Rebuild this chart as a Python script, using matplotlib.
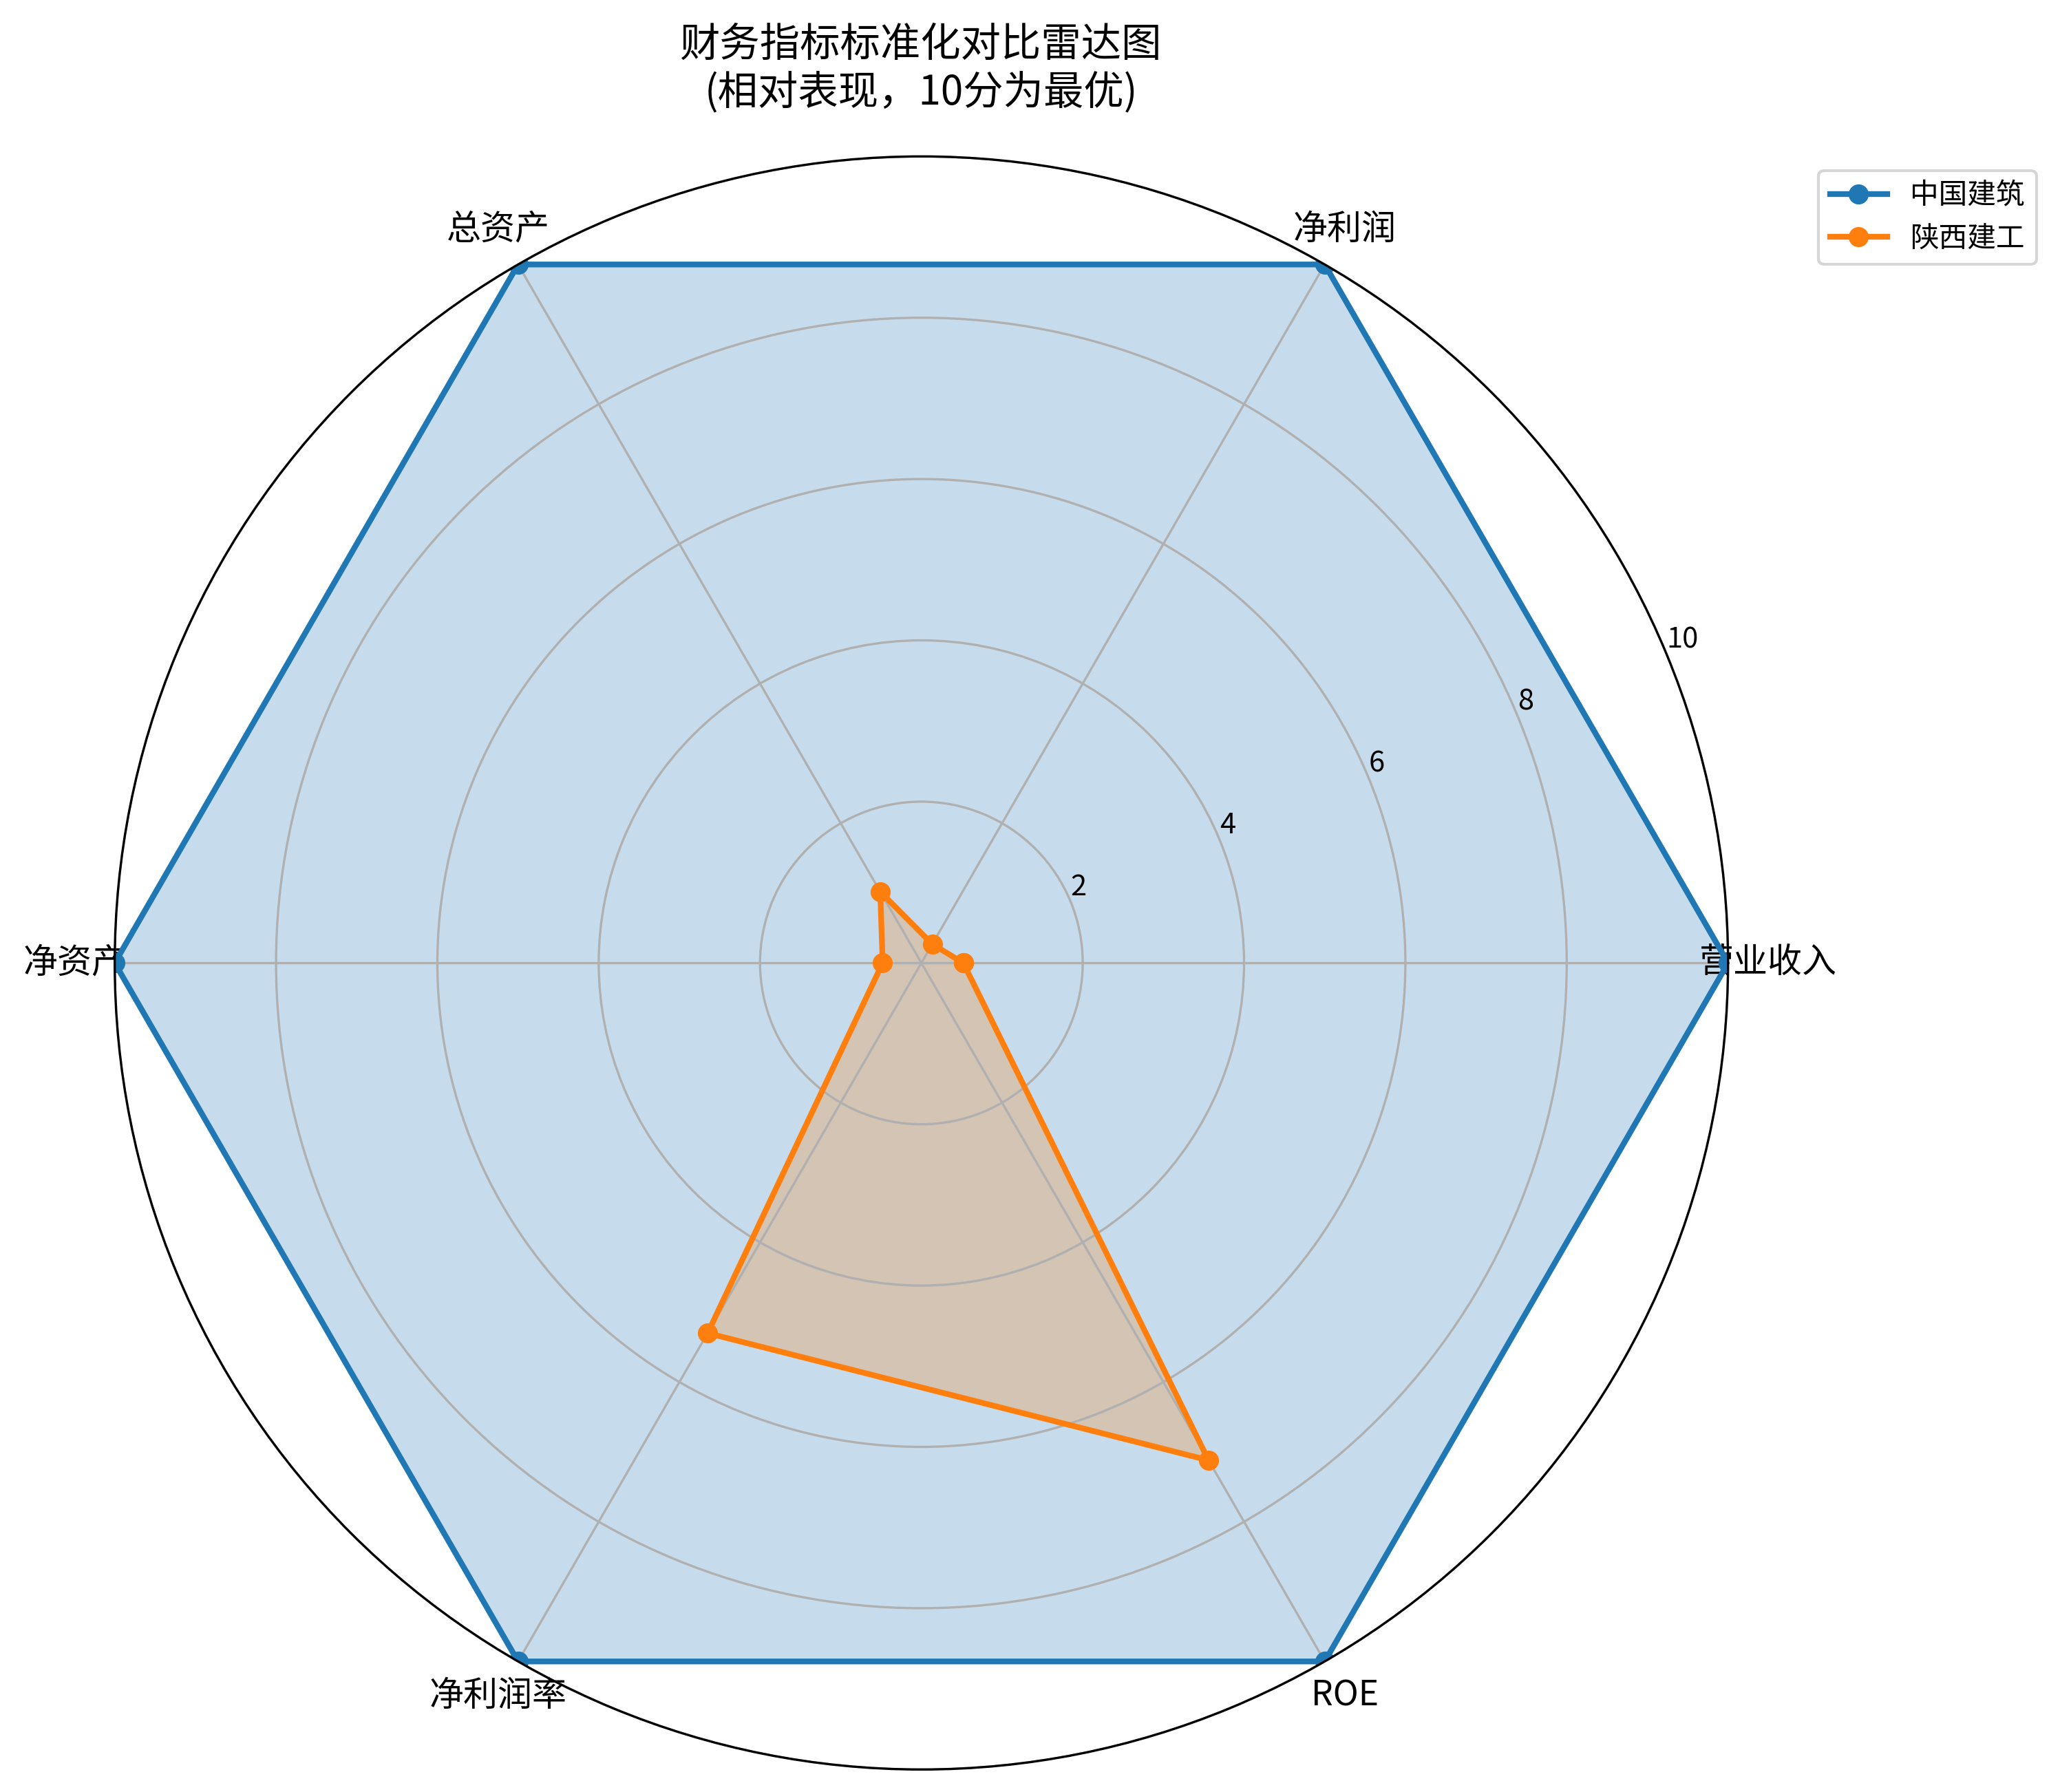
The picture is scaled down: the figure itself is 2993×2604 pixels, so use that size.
import numpy as np
import matplotlib
matplotlib.use("Agg")
import matplotlib.pyplot as plt

plt.rcParams['font.family'] = ['Noto Sans CJK SC', 'DejaVu Sans']
plt.rcParams['axes.unicode_minus'] = False

categories = ['营业收入', '净利润', '总资产', '净资产', '净利润率', 'ROE']
series_names = ['中国建筑', '陕西建工']
values_zgjz = [10, 10, 10, 10, 10, 10]
values_sxjg = [0.52, 0.27, 1.02, 0.48, 5.30, 7.12]
rticks = [2, 4, 6, 8, 10]

W, H, DPI = 2993, 2604, 300
fig = plt.figure(figsize=(W / DPI, H / DPI), dpi=DPI)
cx, cy, R = 1338.7, 1399.3, 1172
ax = fig.add_axes([(cx - R) / W, (H - cy - R) / H, 2 * R / W, 2 * R / H], projection='polar')

n = len(categories)
angles = np.linspace(0, 2 * np.pi, n, endpoint=False).tolist()
angles_closed = angles + angles[:1]

for name, vals, color in [(series_names[0], values_zgjz, '#1f77b4'),
                          (series_names[1], values_sxjg, '#ff7f0e')]:
    v = list(vals) + [vals[0]]
    ax.plot(angles_closed, v, 'o-', linewidth=2, color=color, label=name)
    ax.fill(angles_closed, v, alpha=0.25, color=color)

ax.set_xticks(angles)
ax.set_xticklabels(categories, fontsize=12)
ax.set_ylim(0, 10)
ax.set_yticks(rticks)
ax.set_yticklabels([str(t) for t in rticks], fontsize=10)
ax.set_title('财务指标标准化对比雷达图\n(相对表现，10分为最优)', fontsize=14, pad=18)
ax.legend(loc='upper right', bbox_to_anchor=(1.2, 1.0))

fig.savefig('out.png', dpi=DPI)
